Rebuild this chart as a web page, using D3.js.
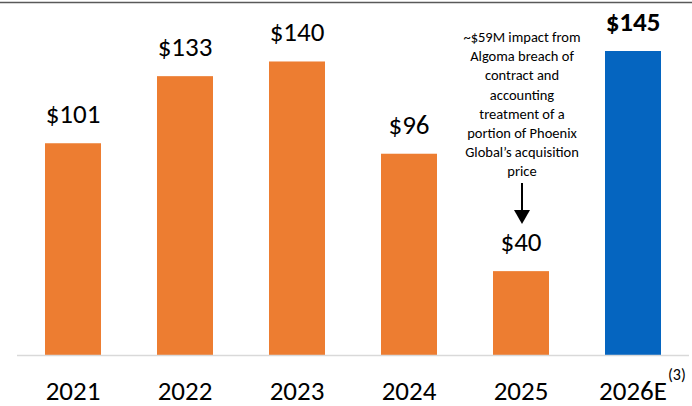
<!DOCTYPE html>
<html>
<head>
<meta charset="utf-8">
<script src="https://cdn.jsdelivr.net/npm/d3@7"></script>
<style>
  body { margin: 0; background: #fff; }
  svg { display: block; font-family: Carlito, Calibri, Lato, sans-serif; }
</style>
</head>
<body>
<svg width="692" height="406"></svg>
<script>
// dati
const years = ["2021", "2022", "2023", "2024", "2025", "2026E"];
const values = [101, 133, 140, 96, 40, 145];
const estimate = [false, false, false, false, false, true];
const noteLines = [
  "~$59M impact from",
  "Algoma breach of",
  "contract and",
  "accounting",
  "treatment of a",
  "portion of Phoenix",
  "Global\u2019s acquisition",
  "price"
];
const noteYear = "2025";

const data = years.map((y, i) => ({ year: y, value: values[i], est: estimate[i] }));

const svg = d3.select("svg");

const x = d3.scaleBand()
  .domain(years)
  .range([17, 689])
  .paddingInner(0.5)
  .paddingOuter(0.25);

const y = d3.scaleLinear()
  .domain([0, 145])
  .range([355, 51]);

// linea in alto
svg.append("line")
  .attr("x1", 0).attr("x2", 692)
  .attr("y1", 2.5).attr("y2", 2.5)
  .attr("stroke", "#595959")
  .attr("stroke-width", 1.5);

// barre
svg.append("g")
  .selectAll("rect")
  .data(data)
  .join("rect")
  .attr("x", d => x(d.year))
  .attr("width", x.bandwidth())
  .attr("y", d => y(d.value))
  .attr("height", d => y(0) - y(d.value))
  .attr("fill", d => d.est ? "#0565C0" : "#ED7D31");

// asse x
svg.append("line")
  .attr("x1", 17).attr("x2", 689)
  .attr("y1", 355.5).attr("y2", 355.5)
  .attr("stroke", "#D9D9D9")
  .attr("stroke-width", 1.5);

const xLabels = svg.append("g")
  .selectAll("text")
  .data(data)
  .join("text")
  .attr("x", d => x(d.year) + x.bandwidth() / 2)
  .attr("y", 400)
  .attr("text-anchor", "middle")
  .attr("font-size", 27)
  .attr("fill", "#000")
  .text(d => d.year);

// apice (3) per la stima
const lastNode = xLabels.filter(d => d.est).node();
const bb = lastNode.getBBox();
svg.append("text")
  .attr("x", bb.x + bb.width + 1)
  .attr("y", 380)
  .attr("font-size", 16)
  .attr("fill", "#000")
  .text("(3)");

// etichette valori
svg.append("g")
  .selectAll("text")
  .data(data)
  .join("text")
  .attr("x", d => x(d.year) + x.bandwidth() / 2)
  .attr("y", d => y(d.value) - 20)
  .attr("text-anchor", "middle")
  .attr("font-size", 27)
  .attr("font-weight", d => d.est ? "bold" : "normal")
  .attr("fill", "#000")
  .text(d => "$" + d.value);

// nota sopra il 2025
const cx = x(noteYear) + x.bandwidth() / 2 + 1;
svg.append("g")
  .selectAll("text")
  .data(noteLines)
  .join("text")
  .attr("x", cx)
  .attr("y", (d, i) => 42 + i * 19.2)
  .attr("text-anchor", "middle")
  .attr("font-size", 14.5)
  .attr("fill", "#000")
  .text(d => d);

// freccia
svg.append("line")
  .attr("x1", cx).attr("x2", cx)
  .attr("y1", 183).attr("y2", 212)
  .attr("stroke", "#000")
  .attr("stroke-width", 2);
svg.append("path")
  .attr("d", `M${cx - 8},210 L${cx + 8},210 L${cx},224 Z`)
  .attr("fill", "#000");
</script>
</body>
</html>
